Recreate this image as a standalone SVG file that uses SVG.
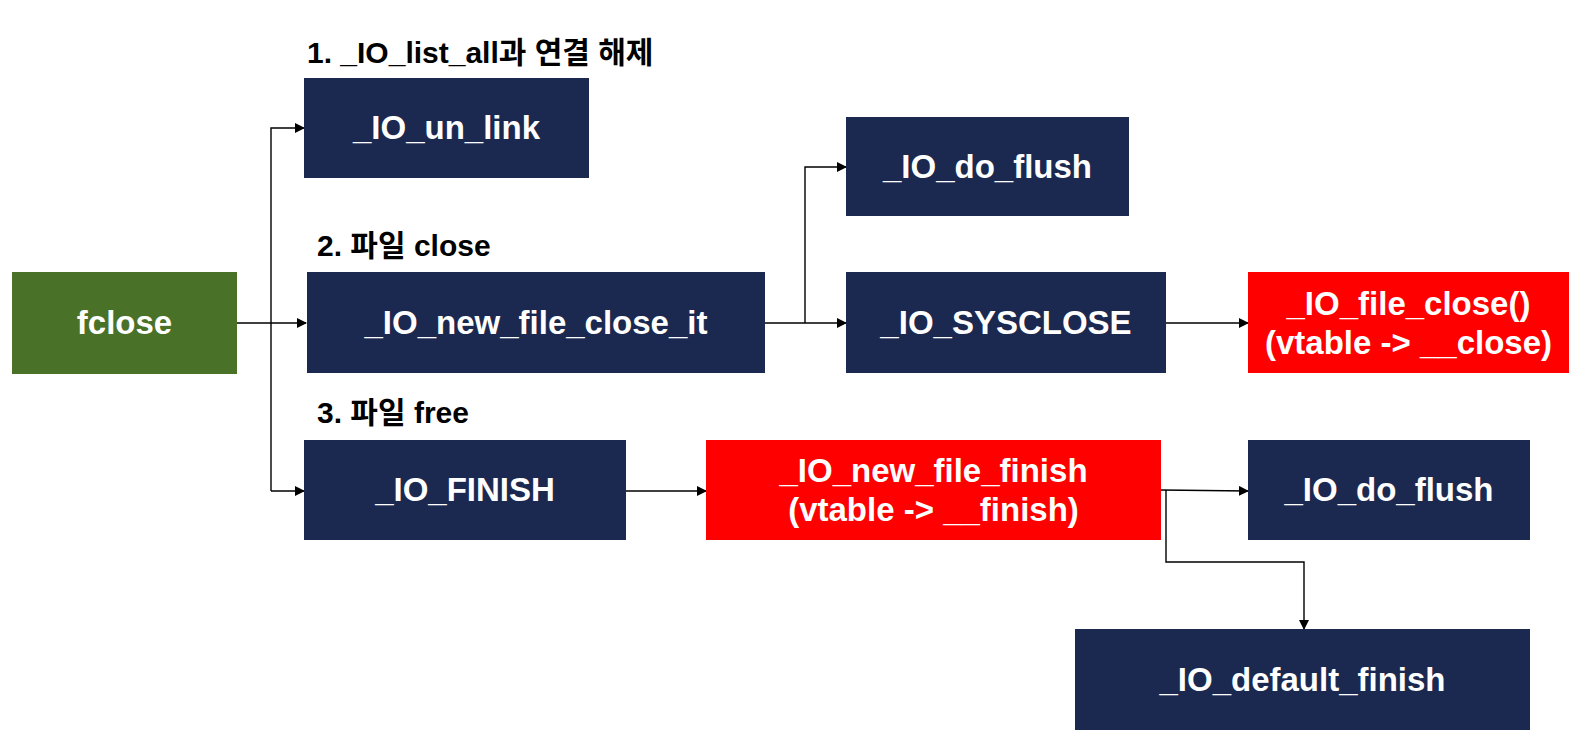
<svg xmlns="http://www.w3.org/2000/svg" width="1574" height="756" viewBox="0 0 1574 756">
<style>
.nv{fill:#1b2951}
.rd{fill:#ff0000}
.gr{fill:#4a7128}
.t{font-family:"Liberation Sans","Noto Sans CJK KR",sans-serif;font-weight:bold;font-size:33px;fill:#ffffff;text-anchor:middle}
.lb{font-family:"Liberation Sans","Noto Sans CJK KR",sans-serif;font-weight:bold;font-size:30px;fill:#000000}
.c{fill:none;stroke:#000;stroke-width:1.4}
</style>
<defs>
<marker id="ah" markerWidth="10" markerHeight="10" refX="9" refY="5" orient="auto" markerUnits="userSpaceOnUse">
<path d="M0,0 L10,5 L0,10 z" fill="#000"/>
</marker>
</defs>
<rect width="1574" height="756" fill="#ffffff"/>
<g id="labels">
<text class="lb" x="307" y="63">1. _IO_list_all과 연결 해제</text>
<text class="lb" x="317" y="256">2. 파일 close</text>
<text class="lb" x="317" y="423">3. 파일 free</text>
</g>
<g id="connectors">
<path class="c" d="M237,323 H306" marker-end="url(#ah)"/>
<path class="c" d="M271,491 V128 H304" marker-end="url(#ah)"/>
<path class="c" d="M271,491 H304" marker-end="url(#ah)"/>
<path class="c" d="M765,323 H846" marker-end="url(#ah)"/>
<path class="c" d="M805,323 V167 H846" marker-end="url(#ah)"/>
<path class="c" d="M1166,323 H1248" marker-end="url(#ah)"/>
<path class="c" d="M626,491 H706" marker-end="url(#ah)"/>
<path class="c" d="M1161,490 L1248,491" marker-end="url(#ah)"/>
<path class="c" d="M1166,490 V562 H1304 V629" marker-end="url(#ah)"/>
</g>
<g id="fclose"><rect class="gr" x="12" y="272" width="225" height="102"/><text class="t" x="124.5" y="334">fclose</text></g>
<g id="io_un_link"><rect class="nv" x="304" y="78" width="285" height="100"/><text class="t" x="446.5" y="139">_IO_un_link</text></g>
<g id="io_new_file_close_it"><rect class="nv" x="307" y="272" width="458" height="101"/><text class="t" x="536" y="334">_IO_new_file_close_it</text></g>
<g id="io_do_flush_1"><rect class="nv" x="846" y="117" width="283" height="99"/><text class="t" x="987.5" y="178">_IO_do_flush</text></g>
<g id="io_sysclose"><rect class="nv" x="846" y="272" width="320" height="101"/><text class="t" x="1006" y="334">_IO_SYSCLOSE</text></g>
<g id="io_file_close"><rect class="rd" x="1248" y="272" width="321" height="101"/><text class="t" x="1408.5" y="315">_IO_file_close()</text><text class="t" x="1408.5" y="354">(vtable -&gt; __close)</text></g>
<g id="io_finish"><rect class="nv" x="304" y="440" width="322" height="100"/><text class="t" x="465" y="501">_IO_FINISH</text></g>
<g id="io_new_file_finish"><rect class="rd" x="706" y="440" width="455" height="100"/><text class="t" x="933.5" y="482">_IO_new_file_finish</text><text class="t" x="933.5" y="521">(vtable -&gt; __finish)</text></g>
<g id="io_do_flush_2"><rect class="nv" x="1248" y="440" width="282" height="100"/><text class="t" x="1389" y="501">_IO_do_flush</text></g>
<g id="io_default_finish"><rect class="nv" x="1075" y="629" width="455" height="101"/><text class="t" x="1302.5" y="691">_IO_default_finish</text></g>
</svg>
